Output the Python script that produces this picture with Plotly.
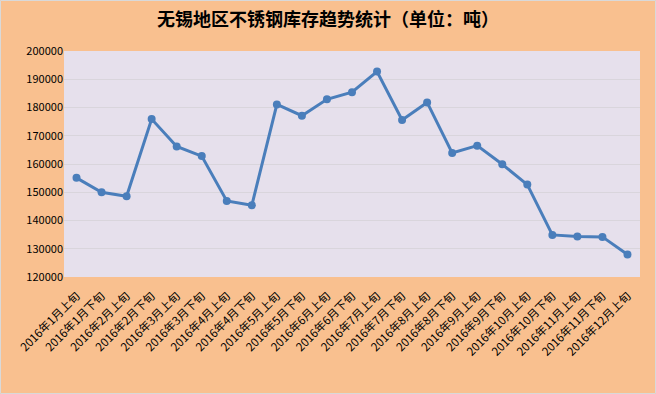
import plotly.graph_objects as go

categories = ["2016年1月上旬", "2016年1月下旬", "2016年2月上旬", "2016年2月下旬",
              "2016年3月上旬", "2016年3月下旬", "2016年4月上旬", "2016年4月下旬",
              "2016年5月上旬", "2016年5月下旬", "2016年6月上旬", "2016年6月下旬",
              "2016年7月上旬", "2016年7月下旬", "2016年8月上旬", "2016年8月下旬",
              "2016年9月上旬", "2016年9月下旬", "2016年10月上旬", "2016年10月下旬",
              "2016年11月上旬", "2016年11月下旬", "2016年12月上旬"]
inventory = [155100, 150000, 148600, 175900, 166200, 162800, 146900, 145400,
             181100, 177100, 182900, 185400, 192700, 175600, 181800, 163900,
             166500, 159900, 152700, 134900, 134300, 134200, 128000]
y_ticks = [120000, 130000, 140000, 150000, 160000, 170000, 180000, 190000, 200000]

W, H = 656, 394
ml, mr, mt, mb = 64, 16, 51, 117
pw, ph = W - ml - mr, H - mt - mb

fig = go.Figure()
fig.add_trace(go.Scatter(
    x=categories, y=inventory, mode="lines+markers",
    line=dict(color="#4A7EBB", width=3),
    marker=dict(color="#4A7EBB", size=8),
    hoverinfo="x+y", showlegend=False,
))

fig.update_layout(
    width=W, height=H,
    margin=dict(l=ml, r=mr, t=mt, b=mb),
    paper_bgcolor="#F9C08F",
    plot_bgcolor="#E6E0EC",
    font=dict(family="Noto Sans CJK SC, sans-serif", color="#000000", size=11),
    title=dict(text="<b>无锡地区不锈钢库存趋势统计（单位：吨）</b>",
               x=0.5, xanchor="center", y=1 - 20 / H, yanchor="middle",
               font=dict(size=18, color="#000000")),
    xaxis=dict(type="category", tickangle=-45, showgrid=False, showline=False,
               ticks="", tickfont=dict(size=11.5), ticklabelstandoff=9,
               range=[-0.5, len(categories) - 0.5]),
    yaxis=dict(range=[120000, 200000], tickvals=y_ticks,
               ticktext=[str(v) for v in y_ticks], showgrid=True,
               gridcolor="#D9D5DC", gridwidth=1, zeroline=False, showline=False,
               ticks="", tickfont=dict(size=11)),
    shapes=[dict(type="rect", xref="paper", yref="paper",
                 x0=-ml / pw + 0.5 / pw, x1=1 + (mr - 0.5) / pw,
                 y0=-mb / ph + 0.5 / ph, y1=1 + (mt - 0.5) / ph,
                 line=dict(color="#D9D9D9", width=1), layer="above")],
)

fig.write_html("out.html")
